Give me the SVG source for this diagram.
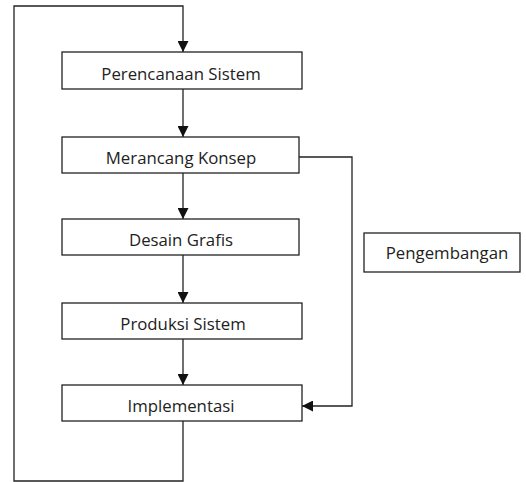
<svg xmlns="http://www.w3.org/2000/svg" width="526" height="482" viewBox="0 0 526 482">
<style>
.box{fill:#fff;stroke:#222;stroke-width:1.3}
.lbl{font-family:"Open Sans",sans-serif;font-size:16.8px;fill:#222;text-anchor:middle}
.ln{fill:none;stroke:#222;stroke-width:1.3}
</style>
<defs>
<marker id="ah" viewBox="0 0 10 10" refX="10" refY="5" markerWidth="11" markerHeight="11" markerUnits="userSpaceOnUse" orient="auto">
<path d="M0,0 L10,5 L0,10 Z" fill="#111"/>
</marker>
</defs>
<rect width="526" height="482" fill="#fff"/>
<g id="connectors">
<path class="ln" d="M183,421 V481 H14 V6 H183 V52" marker-end="url(#ah)"/>
<path class="ln" d="M183,89 V137" marker-end="url(#ah)"/>
<path class="ln" d="M183,173 V219" marker-end="url(#ah)"/>
<path class="ln" d="M183,255 V303" marker-end="url(#ah)"/>
<path class="ln" d="M183,339 V385" marker-end="url(#ah)"/>
<path class="ln" d="M299,157 H352 V406 H302" marker-end="url(#ah)"/>
</g>
<g id="perencanaan">
<rect class="box" x="62" y="52" width="240" height="37"/>
<text class="lbl" x="181" y="80">Perencanaan Sistem</text>
</g>
<g id="merancang">
<rect class="box" x="62" y="137" width="237" height="36"/>
<text class="lbl" x="181" y="164">Merancang Konsep</text>
</g>
<g id="desain">
<rect class="box" x="62" y="219" width="237" height="36"/>
<text class="lbl" x="181" y="246">Desain Grafis</text>
</g>
<g id="produksi">
<rect class="box" x="62" y="303" width="240" height="36"/>
<text class="lbl" x="183" y="330">Produksi Sistem</text>
</g>
<g id="implementasi">
<rect class="box" x="62" y="385" width="240" height="36"/>
<text class="lbl" x="181" y="412">Implementasi</text>
</g>
<g id="pengembangan">
<rect class="box" x="364" y="233" width="156" height="39"/>
<text class="lbl" x="447" y="259">Pengembangan</text>
</g>
</svg>
